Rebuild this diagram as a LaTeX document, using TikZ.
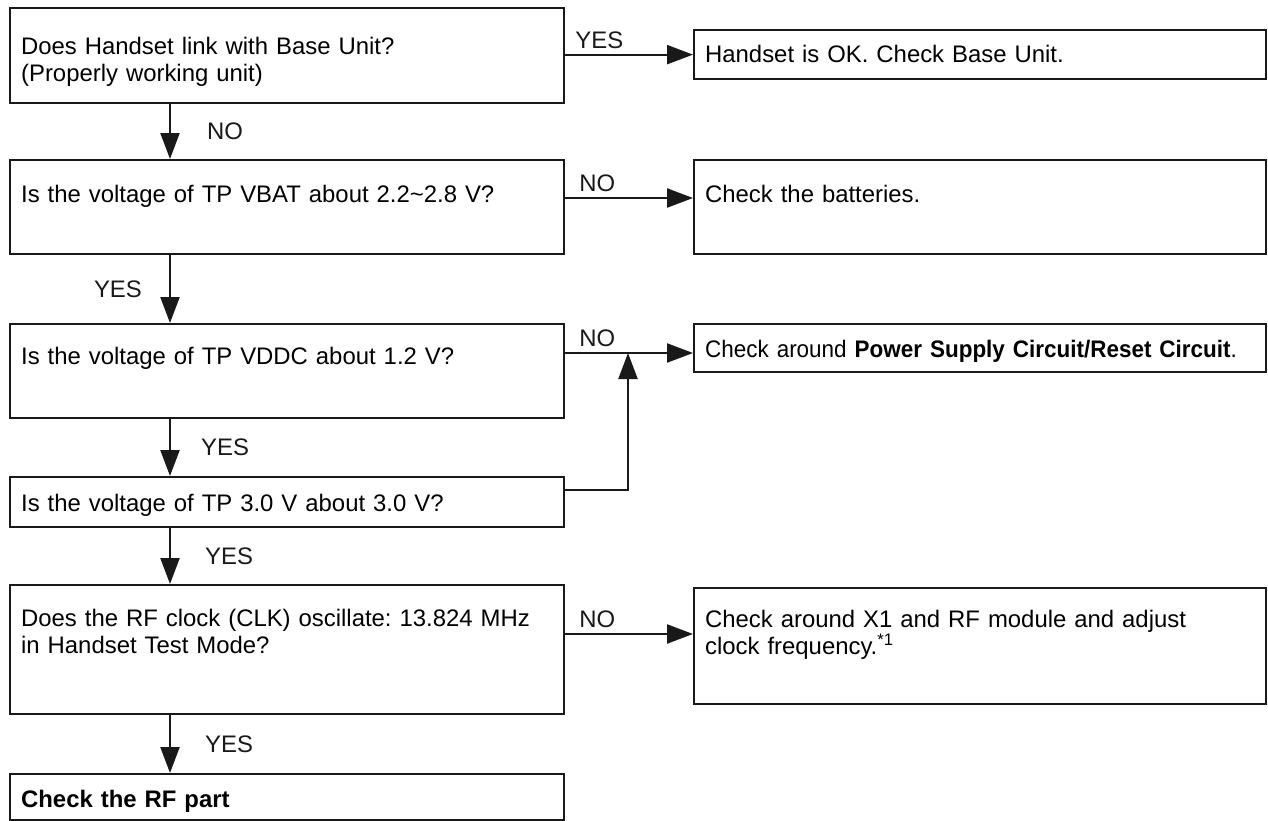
\documentclass[tikz,border=0pt]{standalone}
\usepackage{fontspec}
\setmainfont{Liberation Sans}
\newfontfamily\narrowsans[FakeStretch=0.94]{Liberation Sans}
\frenchspacing
\usetikzlibrary{positioning,arrows.meta}

\begin{document}
\begin{tikzpicture}[
    every node/.style={font=\fontsize{13.6pt}{15.4pt}\selectfont, align=left},
    box/.style={rectangle, draw=black!90, line width=1.3pt, anchor=north west, inner xsep=0.22cm, inner ysep=0.1cm},
    lbox/.style={box, text width=10.64cm},
    rbox/.style={box, text width=11.0cm},
    lbl/.style={inner sep=0.1cm},
    arr/.style={-{Triangle[length=0.52cm,width=0.38cm]}, line width=1.3pt, black!90}
]
\useasboundingbox (0,0) rectangle (25.36,-16.42);

\node[lbox, text height=0.83cm, text depth=0.87cm] (q1) at (0.18,-0.14)
    {Does Handset link with Base Unit?\\(Properly working unit)};
\node[lbox, text height=0.75cm, text depth=0.93cm] (q2) at (0.18,-3.18)
    {Is the voltage of TP VBAT about 2.2\textasciitilde 2.8 V?};
\node[lbox, text height=0.71cm, text depth=0.97cm] (q3) at (0.18,-6.46)
    {Is the voltage of TP VDDC about 1.2 V?};
\node[lbox, text height=0.59cm, text depth=0.21cm] (q4) at (0.18,-9.52)
    {Is the voltage of TP 3.0 V about 3.0 V?};
\node[lbox, text height=0.73cm, text depth=1.65cm] (q5) at (0.18,-11.68)
    {Does the RF clock (CLK) oscillate: 13.824 MHz\\in Handset Test Mode?};
\node[lbox, text height=0.57cm, text depth=0.15cm] (q6) at (0.18,-15.46)
    {\textbf{Check the RF part}};

\node[rbox, text height=0.55cm, text depth=0.23cm] (r1) at (13.86,-0.58)
    {Handset is OK. Check Base Unit.};
\node[rbox, text height=0.75cm, text depth=0.93cm] (r2) at (13.86,-3.18)
    {Check the batteries.};
\node[rbox, text height=0.57cm, text depth=0.19cm] (r3) at (13.86,-6.46)
    {\mbox{\narrowsans Check around \textbf{Power Supply Circuit/Reset Circuit}.}};
\node[rbox, text height=0.69cm, text depth=1.43cm] (r5) at (13.86,-11.74)
    {Check around X1 and RF module and adjust\\clock frequency.\textsuperscript{*1}};

\coordinate (jn) at (12.56,-7.06);

\draw[arr] (q1.east |- r1.west) -- node[lbl, pos=0, anchor=south west, xshift=0.08cm]{YES} (r1.west);
\draw[arr] (q2.mid east) -- node[lbl, pos=0, anchor=south west, xshift=0.16cm]{NO} (r2.mid west);
\draw[arr] (q3.east |- r3.mid west) -- node[lbl, pos=0, anchor=south west, xshift=0.16cm]{NO} (r3.mid west);
\draw[arr] ([yshift=0.24cm]q4.east) -| (jn);
\draw[arr] ([yshift=-0.22cm]r5.mid west -| q5.east) -- node[lbl, pos=0, anchor=south west, xshift=0.16cm]{NO} ([yshift=-0.22cm]r5.mid west);

\draw[arr] ([xshift=3.22cm]q1.south west) -- node[lbl, right=0.62cm]{NO} ([xshift=3.22cm]q2.north west);
\draw[arr] ([xshift=3.22cm]q2.south west) -- node[lbl, left=0.44cm]{YES} ([xshift=3.22cm]q3.north west);
\draw[arr] ([xshift=3.22cm]q3.south west) -- node[lbl, right=0.5cm]{YES} ([xshift=3.22cm]q4.north west);
\draw[arr] ([xshift=3.22cm]q4.south west) -- node[lbl, right=0.58cm]{YES} ([xshift=3.22cm]q5.north west);
\draw[arr] ([xshift=3.22cm]q5.south west) -- node[lbl, right=0.58cm]{YES} ([xshift=3.22cm]q6.north west);
\end{tikzpicture}
\end{document}
